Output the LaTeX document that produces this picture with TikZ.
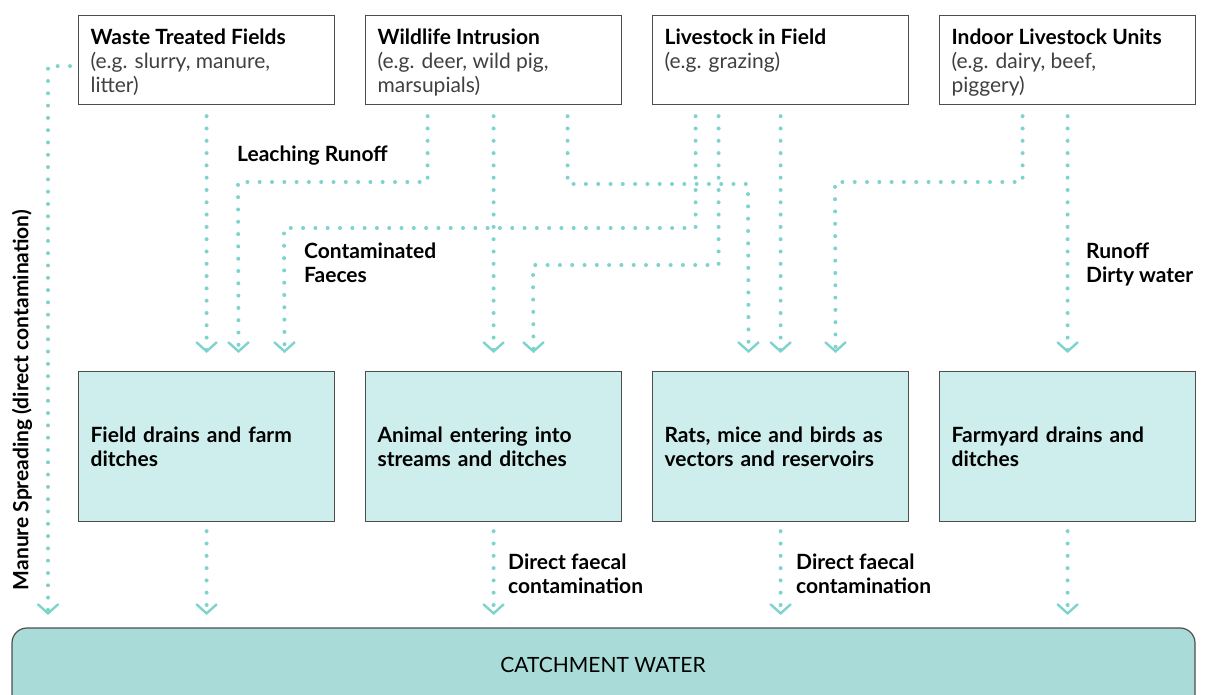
\documentclass[tikz,border=0pt]{standalone}
\usepackage{fontspec}
\setmainfont{Lato}
\usetikzlibrary{arrows.meta}

\definecolor{dotc}{HTML}{7ED3CD}
\definecolor{palec}{HTML}{CDEEEC}
\definecolor{waterc}{HTML}{A9DCD8}
\definecolor{edgec}{HTML}{4D4D4D}

\tikzset{
    srcbox/.style={draw=edgec, line width=1.2pt, inner xsep=12pt, inner ysep=11pt, anchor=north west, font=\fontsize{21}{24}\selectfont},
    midbox/.style={draw=edgec, line width=1.2pt, fill=palec, inner xsep=12pt, text width=232pt, align=left,
        minimum width=256pt, minimum height=150pt, anchor=north west, font=\fontsize{21}{24}\selectfont\bfseries},
    lbl/.style={anchor=north west, align=left, inner sep=0pt, font=\fontsize{21}{24}\selectfont\bfseries},
    flow/.style={dotc, line width=4pt, line cap=round, dash pattern=on 0pt off 12.3pt,
        -{Straight Barb[length=9pt, width=20pt, line width=2.4pt, line cap=round]}},
    downin/.style={shorten <=11pt, shorten >=18pt},
    downout/.style={shorten <=9pt, shorten >=13pt}
}
\newcommand{\srctext}[2]{\parbox[t][67pt][t]{232pt}{\vspace*{2.5pt}\textbf{#1}\\\color{black!75}#2}}

\begin{document}
\begin{tikzpicture}[x=1pt, y=-1pt]
    \useasboundingbox (0,0) rectangle (1205,695);

    % sources
    \node[srcbox] (waste) at (78,15) {\srctext{Waste Treated Fields}{(e.g. slurry, manure,\\litter)}};
    \node[srcbox] (wild) at (365,15) {\srctext{Wildlife Intrusion}{(e.g. deer, wild pig,\\marsupials)}};
    \node[srcbox] (field) at (652,15) {\srctext{Livestock in Field}{(e.g. grazing)}};
    \node[srcbox] (indoor) at (939,15) {\srctext{Indoor Livestock Units}{(e.g. dairy, beef,\\piggery)}};

    % pathways
    \node[midbox] (drains) at (78,371) {Field drains and farm\\ditches};
    \node[midbox] (streams) at (365,371) {Animal entering into\\streams and ditches};
    \node[midbox] (vectors) at (652,371) {Rats, mice and birds as\\vectors and reservoirs};
    \node[midbox] (yard) at (939,371) {Farmyard drains and\\ditches};

    % sink
    \draw[edgec, line width=1.2pt, fill=waterc, rounded corners=15pt] (12,710) rectangle (1195,628);
    \coordinate (catch nw) at (12,628);
    \node[font=\fontsize{21}{24}\selectfont] (catch) at (603,665) {CATCHMENT WATER};

    % bends
    \coordinate (leach) at (238,182);
    \coordinate (faec) at (284,228);
    \coordinate (wildhop) at (748,184);
    \coordinate (fieldhop) at (533,265);
    \coordinate (indhop) at (835,182);

    % top to middle
    \draw[flow, downin] (waste.south) -- (drains.north);
    \draw[flow, downin] ([xshift=-66pt]wild.south) |- (leach) -- ([xshift=32pt]drains.north);
    \draw[flow, downin] ([xshift=-85pt]field.south) |- (faec) -- ([xshift=78pt]drains.north);
    \draw[flow, downin] (wild.south) -- (streams.north);
    \draw[flow, downin] ([xshift=-62pt]field.south) |- (fieldhop) -- ([xshift=40pt]streams.north);
    \draw[flow, downin] ([xshift=74pt]wild.south) |- (wildhop) -- ([xshift=-32pt]vectors.north);
    \draw[flow, downin] (field.south) -- (vectors.north);
    \draw[flow, downin] ([xshift=-45pt]indoor.south) |- (indhop) -- ([xshift=55pt]vectors.north);
    \draw[flow, downin] (indoor.south) -- (yard.north);

    % middle to water
    \draw[flow, downout] (drains.south) -- (drains.south |- catch nw);
    \draw[flow, downout] (streams.south) -- (streams.south |- catch nw);
    \draw[flow, downout] (vectors.south) -- (vectors.south |- catch nw);
    \draw[flow, downout] (yard.south) -- (yard.south |- catch nw);
    \draw[flow, shorten <=8pt, shorten >=13pt] ([yshift=-6pt]waste.west) -| ([xshift=36pt]catch nw);

    % labels
    \node[lbl] (leachlbl) at (237,146) {Leaching Runoff};
    \node[lbl] (faeclbl) at (304,243) {Contaminated\\Faeces};
    \node[lbl] (dirtylbl) at (1086,243) {Runoff\\Dirty water};
    \node[lbl] (direct1) at (508,554) {Direct faecal\\contamination};
    \node[lbl] (direct2) at (796,554) {Direct faecal\\contamination};
    \node[lbl, anchor=center, rotate=90] (manurelbl) at (22,400) {Manure Spreading (direct contamination)};
\end{tikzpicture}
\end{document}
